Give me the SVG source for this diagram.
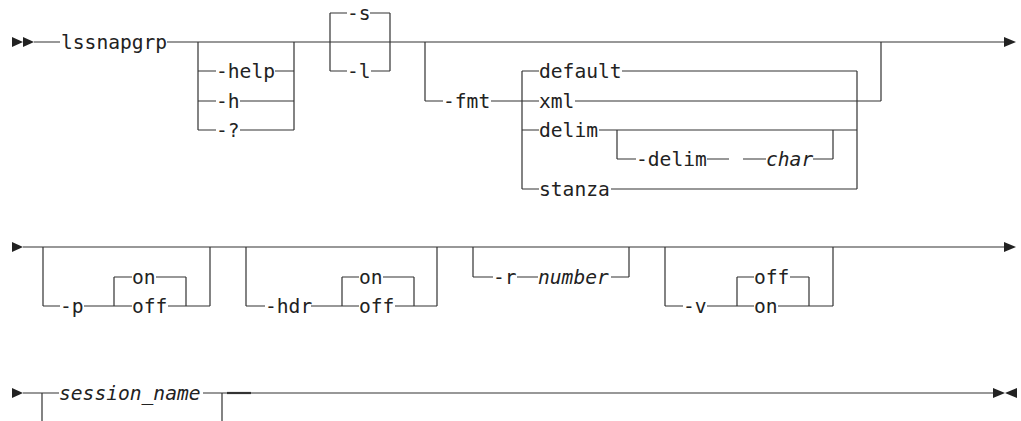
<svg xmlns="http://www.w3.org/2000/svg" width="1021" height="421" viewBox="0 0 1021 421">
<style>
.ln{stroke:#333;stroke-width:1.2;fill:none}
.th{stroke:#333;stroke-width:2.2;fill:none}
.ar{fill:#222}
.t{font-family:"DejaVu Sans Mono","Liberation Mono",monospace;font-size:19.6px;fill:#222}
.i{font-style:italic}
</style>
<rect width="1021" height="421" fill="#fff"/>
<g id="connectors">
<path class="ln" d="M34 42H60M167 42H1004
M198 42V130M294 42V130M198 71H216M275 71H294M198 101H216M240 101H294M198 130H216M240 130H294
M330 13V71M390 13V71M330 13H347M370 13H390M330 71H347M371 71H390
M425 42V101M425 101H443M491 101H522M522 71V189M522 71H539M622 71H857M522 101H539M575 101H881M881 42V101M522 130H539M599 130H857M522 189H539M611 189H857M857 71V189
M617 130V159M617 159H636M707 159H729M743 159H766M813 159H833M833 130V159
M23 247H1004
M43 247V306M210 247V306M43 306H60M84 306H132M114 277V306M114 277H132M156 277H186M186 277V306M168 306H210
M246 247V306M437 247V306M246 306H265M311 306H359M342 277V306M342 277H359M383 277H414M414 277V306M395 306H437
M473 247V277M629 247V277M473 277H493M517 277H538M611 277H629
M665 247V306M833 247V306M665 306H683M707 306H754M737 277V306M737 277H754M790 277H809M809 277V306M778 306H833
M23 393H59M42 393V421M203 393H993M222 393V421"/>
<path class="th" d="M227 393H251"/>
<g id="arrows">
<polygon class="ar" points="12,37 23,42 12,47"/>
<polygon class="ar" points="23,37 34,42 23,47"/>
<polygon class="ar" points="1004,37 1016,42 1004,47"/>
<polygon class="ar" points="12,242 23,247 12,252"/>
<polygon class="ar" points="1004,242 1016,247 1004,252"/>
<polygon class="ar" points="12,388 23,393 12,398"/>
<polygon class="ar" points="993,388 1005,393 993,398"/>
<polygon class="ar" points="1017,388 1005,393 1017,398"/>
</g>
</g>
<g id="n-lssnapgrp"><text class="t" x="61" y="49">lssnapgrp</text></g>
<g id="n-help"><text class="t" x="216" y="78">-help</text></g>
<g id="n-h"><text class="t" x="216" y="108">-h</text></g>
<g id="n-q"><text class="t" x="216" y="137">-?</text></g>
<g id="n-s"><text class="t" x="347" y="20">-s</text></g>
<g id="n-l"><text class="t" x="347" y="78">-l</text></g>
<g id="n-fmt"><text class="t" x="443" y="108">-fmt</text></g>
<g id="n-default"><text class="t" x="539" y="78">default</text></g>
<g id="n-xml"><text class="t" x="539" y="108">xml</text></g>
<g id="n-delim"><text class="t" x="539" y="137">delim</text></g>
<g id="n-stanza"><text class="t" x="539" y="196">stanza</text></g>
<g id="n-delimopt"><text class="t" x="636" y="166">-delim</text></g>
<g id="n-char"><text class="t i" x="766" y="166">char</text></g>
<g id="n-p"><text class="t" x="60" y="313">-p</text></g>
<g id="n-p-on"><text class="t" x="132" y="284">on</text></g>
<g id="n-p-off"><text class="t" x="132" y="313">off</text></g>
<g id="n-hdr"><text class="t" x="265" y="313">-hdr</text></g>
<g id="n-hdr-on"><text class="t" x="359" y="284">on</text></g>
<g id="n-hdr-off"><text class="t" x="359" y="313">off</text></g>
<g id="n-r"><text class="t" x="493" y="284">-r</text></g>
<g id="n-number"><text class="t i" x="538" y="284">number</text></g>
<g id="n-v"><text class="t" x="683" y="313">-v</text></g>
<g id="n-v-off"><text class="t" x="754" y="284">off</text></g>
<g id="n-v-on"><text class="t" x="754" y="313">on</text></g>
<g id="n-session"><text class="t i" x="59" y="400">session_name</text></g>
</svg>
